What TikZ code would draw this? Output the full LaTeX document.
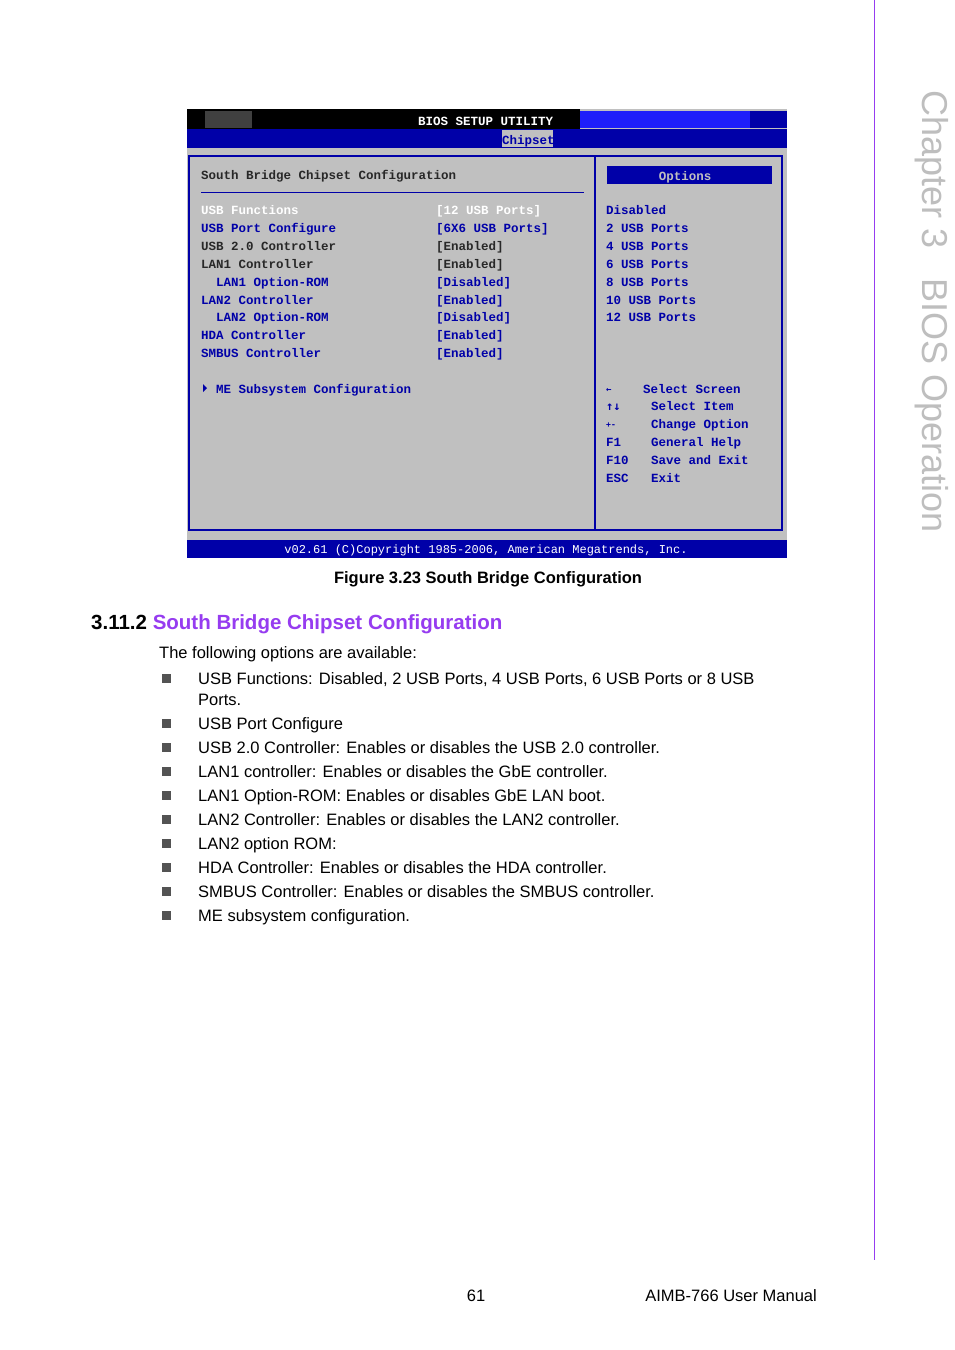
\documentclass[tikz,border=0pt]{standalone}
\usepackage{fontspec}
\setmainfont{Liberation Sans}
\newfontfamily\biosf{Liberation Mono}
\newfontfamily\symf{DejaVu Sans Mono}
\definecolor{bgray}{RGB}{192,192,192}
\definecolor{bblue}{RGB}{0,0,168}
\definecolor{hblue}{RGB}{30,30,250}
\definecolor{dtext}{RGB}{40,40,40}
\definecolor{purp}{RGB}{150,60,240}
\definecolor{chap}{RGB}{190,190,190}
\tikzset{
 bios/.style={font=\biosf\fontsize{12.5}{13}\selectfont\bfseries,anchor=base west,inner sep=0pt},
 bb/.style={bios,text=bblue},
 bd/.style={bios,text=dtext},
 bw/.style={bios,text=white},
 body/.style={font=\fontsize{16.5}{19}\selectfont,anchor=base west,inner sep=0pt},
 bul/.style={fill=dtext!80,minimum size=9pt,inner sep=0pt}
}
\begin{document}
\begin{tikzpicture}[x=1pt,y=-1pt]
\useasboundingbox[fill=white] (0,0) rectangle (954,1350);
% screen
\fill[bgray] (187,109) rectangle (787,558);
\fill[black] (187,109) rectangle (580,129);
\fill[black!75] (205,111) rectangle (252,128);
\fill[hblue] (580,111) rectangle (750,128);
\fill[bblue] (750,111) rectangle (787,128);
\fill[bblue] (187,129) rectangle (787,148);
\fill[bgray] (502,130) rectangle (553,147);
\node[bw] (t1) at (418,125) {BIOS SETUP UTILITY};
\node[bb] (t2) at (502,144) {Chipset};
\draw[bblue,line width=1.5pt] (189,156) rectangle (595,530);
\draw[bblue,line width=1.5pt] (595,156) rectangle (782,530);
\draw[bblue,line width=1pt] (201,192) -- (584,192);
\fill[bblue] (607,166) rectangle (772,184);
\node[bios,text=bgray,anchor=base] (op) at (685,180) {Options};
\node[bd] (title) at (201,179) {South Bridge Chipset Configuration};
% items
\node[bw] at (201,214) {USB Functions};
\node[bb] at (201,232) {USB Port Configure};
\node[bd] at (201,250) {USB 2.0 Controller};
\node[bd] at (201,268) {LAN1 Controller};
\node[bb] at (216,286) {LAN1 Option-ROM};
\node[bb] at (201,304) {LAN2 Controller};
\node[bb] at (216,321) {LAN2 Option-ROM};
\node[bb] at (201,339) {HDA Controller};
\node[bb] at (201,357) {SMBUS Controller};
\fill[bblue] (203,384) -- (207,388) -- (203,392) -- cycle;
\node[bb] at (216,393) {ME Subsystem Configuration};
\node[bw] at (436,214) {[12 USB Ports]};
\node[bb] at (436,232) {[6X6 USB Ports]};
\node[bd] at (436,250) {[Enabled]};
\node[bd] at (436,268) {[Enabled]};
\node[bb] at (436,286) {[Disabled]};
\node[bb] at (436,304) {[Enabled]};
\node[bb] at (436,321) {[Disabled]};
\node[bb] at (436,339) {[Enabled]};
\node[bb] at (436,357) {[Enabled]};
% options
\node[bb] at (606,214) {Disabled};
\node[bb] at (606,232) {2 USB Ports};
\node[bb] at (606,250) {4 USB Ports};
\node[bb] at (606,268) {6 USB Ports};
\node[bb] at (606,286) {8 USB Ports};
\node[bb] at (606,304) {10 USB Ports};
\node[bb] at (606,321) {12 USB Ports};
% help
\node[bb,font=\symf\fontsize{9}{10}\selectfont\bfseries] at (606,392) {←};
\node[bb] at (643,393) {Select Screen};
\node[bb,font=\symf\fontsize{12}{13}\selectfont\bfseries] at (606,410) {↑↓};
\node[bb] at (651,410) {Select Item};
\node[bb,font=\symf\fontsize{8}{10}\selectfont\bfseries] at (606,427) {+-};
\node[bb] at (651,428) {Change Option};
\node[bb] at (606,446) {F1};
\node[bb] at (651,446) {General Help};
\node[bb] at (606,464) {F10};
\node[bb] at (651,464) {Save and Exit};
\node[bb] at (606,482) {ESC};
\node[bb] at (651,482) {Exit};
% bottom bar
\fill[bblue] (187,540) rectangle (787,558);
\node[bios,text=white,anchor=base,font=\biosf\fontsize{12}{13}\selectfont] (cp) at (486,553) {v02.61 (C)Copyright 1985-2006, American Megatrends, Inc.};
% caption
\node[body,anchor=base,font=\fontsize{16.5}{19}\selectfont\bfseries] (cap) at (488,583) {Figure 3.23 South Bridge Configuration};
\node[body,font=\fontsize{20.5}{24}\selectfont\bfseries] (h) at (91,629) {3.11.2 \textcolor{purp}{South Bridge Chipset Configuration}};
\node[body] (intro) at (159,658) {The following options are available:};
\foreach \y/\t in {684/{USB Functions: Disabled, 2 USB Ports, 4 USB Ports, 6 USB Ports or 8 USB},
 729/{USB Port Configure},
 753/{USB 2.0 Controller: Enables or disables the USB 2.0 controller.},
 777/{LAN1 controller: Enables or disables the GbE controller.},
 801/{LAN1 Option-ROM: Enables or disables GbE LAN boot.},
 825/{LAN2 Controller: Enables or disables the LAN2 controller.},
 849/{LAN2 option ROM:},
 873/{HDA Controller: Enables or disables the HDA controller.},
 897/{SMBUS Controller: Enables or disables the SMBUS controller.},
 921/{ME subsystem configuration.}}{
 \node[bul] at (166,\y-6) {};
 \node[body] at (198,\y) {\t};
}
\node[body] (p2) at (198,705) {Ports.};
% side
\draw[purp,line width=0.8pt] (874,0) -- (874,1260);
\node[font=\fontsize{36}{40}\selectfont,text=chap,rotate=-90,anchor=west,inner sep=0pt] (side) at (932,90) {Chapter 3\hspace{30pt}BIOS Operation};
% footer
\node[body,anchor=base] (pg) at (476,1301) {61};
\node[body,anchor=base east] (man) at (817,1301) {AIMB-766 User Manual};
\end{tikzpicture}
\end{document}
